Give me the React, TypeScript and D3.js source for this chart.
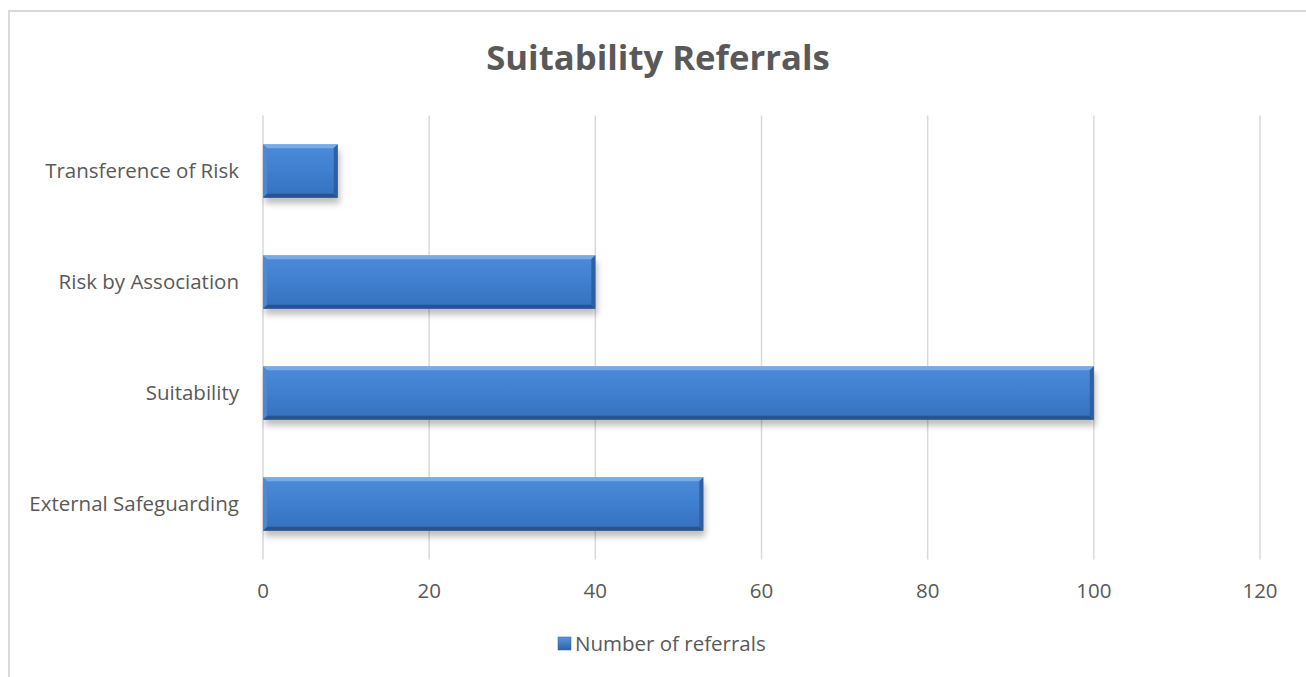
import React from "react";
import * as d3 from "d3";

const categories = ["Transference of Risk", "Risk by Association", "Suitability", "External Safeguarding"];
const values = [9, 40, 100, 53];
const xTicks = [0, 20, 40, 60, 80, 100, 120];
const seriesName = "Number of referrals";
const title = "Suitability Referrals";

const W = 1306;
const H = 677;
const FONT = "'Open Sans', 'Liberation Sans', sans-serif";
const TEXT = "#595959";
const FS = 20.5;

export default function App() {
  const left = 263, right = 1260, top = 115.5, bottom = 559.5;
  const x = d3.scaleLinear().domain([0, 120]).range([left, right]);
  const y = d3.scaleBand<string>().domain(categories).range([top, bottom]).paddingInner(0.52).paddingOuter(0.26);
  const bw = y.bandwidth();
  const bv = 4; // bevel size

  return (
    <svg width={W} height={H} style={{ position: "absolute", left: 0, top: 0, background: "#fff" }}>
      <defs>
        <linearGradient id="barFill" x1="0" y1="0" x2="0" y2="1">
          <stop offset="0" stopColor="#4c8bd9" />
          <stop offset="0.5" stopColor="#3f7fcf" />
          <stop offset="1" stopColor="#3670bc" />
        </linearGradient>
        <linearGradient id="legFill" x1="0" y1="0" x2="0" y2="1">
          <stop offset="0" stopColor="#5a96dd" />
          <stop offset="1" stopColor="#2e62a8" />
        </linearGradient>
        <filter id="shadow" x="-10%" y="-30%" width="120%" height="170%">
          <feGaussianBlur stdDeviation="3" />
        </filter>
      </defs>
      <rect x={9} y={11} width={1400} height={800} fill="#fff" stroke="#d9d9d9" strokeWidth={2} />
      <text x={658} y={70} textAnchor="middle" fontFamily={FONT} fontWeight={700} fontSize={34.7} fill={TEXT}>
        {title}
      </text>
      {xTicks.map((t) => (
        <g key={t}>
          <line x1={x(t)} x2={x(t)} y1={top} y2={bottom} stroke="#d9d9d9" strokeWidth={1.5} />
          <text x={x(t)} y={598} textAnchor="middle" fontFamily={FONT} fontSize={FS} fill={TEXT}>
            {t}
          </text>
        </g>
      ))}
      {categories.map((c, i) => {
        const y0 = y(c)!;
        const x0 = x(0);
        const x1 = x(values[i]);
        const y1 = y0 + bw;
        return (
          <g key={c}>
            <text x={239} y={y0 + bw / 2 + 7} textAnchor="end" fontFamily={FONT} fontSize={FS} fill={TEXT}>
              {c}
            </text>
            <rect x={x0 + 2} y={y0 + 6} width={x1 - x0} height={bw} fill="#000" opacity={0.25} filter="url(#shadow)" />
            <rect x={x0} y={y0} width={x1 - x0} height={bw} fill="url(#barFill)" />
            <polygon points={`${x0},${y0} ${x1},${y0} ${x1 - bv},${y0 + bv} ${x0 + bv},${y0 + bv}`} fill="#7fb0ea" opacity={0.85} />
            <polygon points={`${x0},${y1} ${x1},${y1} ${x1 - bv},${y1 - bv} ${x0 + bv},${y1 - bv}`} fill="#254f8a" opacity={0.85} />
            <polygon points={`${x1},${y0} ${x1},${y1} ${x1 - bv},${y1 - bv} ${x1 - bv},${y0 + bv}`} fill="#2c5c9e" opacity={0.9} />
            <polygon points={`${x0},${y0} ${x0},${y1} ${x0 + bv},${y1 - bv} ${x0 + bv},${y0 + bv}`} fill="#4f8bd6" opacity={0.8} />
          </g>
        );
      })}
      <rect x={558} y={637} width={13} height={13} fill="url(#legFill)" stroke="#2c5c9e" strokeWidth={0.5} />
      <text x={575} y={651} fontFamily={FONT} fontSize={FS} fill={TEXT}>
        {seriesName}
      </text>
    </svg>
  );
}
